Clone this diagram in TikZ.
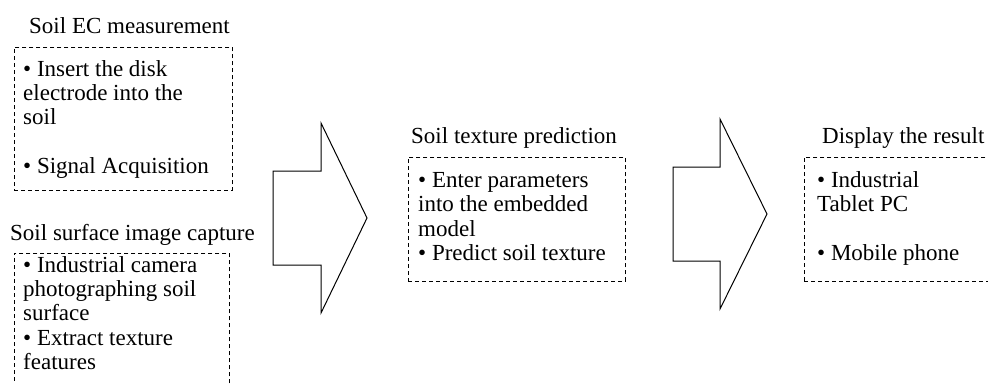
\documentclass[tikz,border=0pt]{standalone}
\usepackage{fontspec}
\setmainfont{Liberation Serif}
\begin{document}
\begin{tikzpicture}[x=1pt,y=-1pt,
  dbox/.style={draw, dash pattern=on 4pt off 3pt, line width=0.8pt, inner sep=0pt, anchor=north west},
  txt/.style={font=\fontsize{23}{24.4}\selectfont, align=left, inner sep=0pt, anchor=north west},
  ttl/.style={font=\fontsize{23}{24.4}\selectfont, inner sep=0pt, anchor=base west},
  bigarrow/.style={draw, line width=1pt, line join=miter}]
\clip (0,0) rectangle (988,383);
% boxes
\node[dbox, minimum width=218pt, minimum height=143pt] (ecbox) at (14,47) {};
\node[dbox, minimum width=215pt, minimum height=160pt] (imbox) at (14,253) {};
\node[dbox, minimum width=217pt, minimum height=124pt] (prbox) at (408,157) {};
\node[dbox, minimum width=200pt, minimum height=124pt] (dsbox) at (804,157) {};
% titles
\node[ttl] (ecttl) at (29,33) {Soil EC measurement};
\node[ttl] (imttl) at (10,240) {Soil surface image capture};
\node[ttl] (prttl) at (411,143) {Soil texture prediction};
\node[ttl] (dsttl) at (822,143) {Display the result};
% texts
\node[txt] (ectxt) at (23,60) {\textbullet{} Insert the disk\\electrode into the\\soil\\[24.4pt]\textbullet{} Signal Acquisition};
\node[txt] (imtxt) at (23,256) {\textbullet{} Industrial camera\\photographing soil\\surface\\\textbullet{} Extract texture\\features};
\node[txt] (prtxt) at (418,172) {\textbullet{} Enter parameters\\into the embedded\\model\\\textbullet{} Predict soil texture};
\node[txt] (dstxt) at (817,171) {\textbullet{} Industrial\\Tablet PC\\[24.4pt]\textbullet{} Mobile phone};
% block arrows
\draw[bigarrow] (273,171) -- (321,171) -- (321,123) -- (367,218) -- (321,313) -- (321,265) -- (273,265) -- cycle;
\draw[bigarrow] (673,167) -- (720,167) -- (720,119) -- (767,214) -- (720,309) -- (720,261) -- (673,261) -- cycle;
\end{tikzpicture}
\end{document}
